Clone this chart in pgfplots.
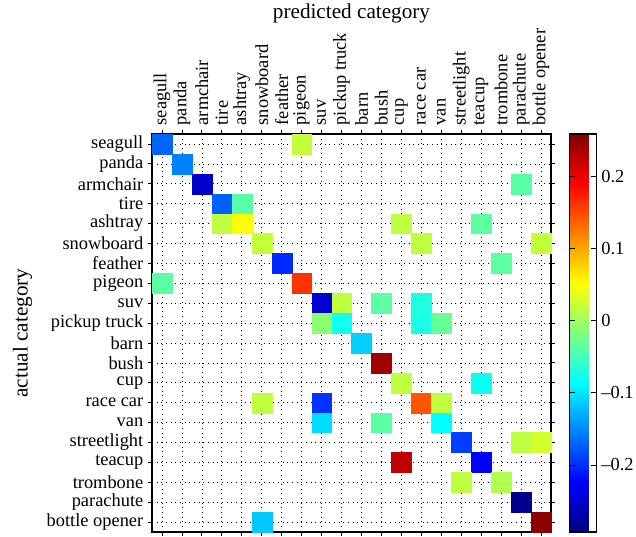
\documentclass[border=0pt]{standalone}
\usepackage{pgfplots}
\pgfplotsset{compat=1.18}
\usepackage{fontspec}
\setmainfont{Liberation Serif}
\pgfplotstableread{
x y c
0 0 -0.170
7 0 0.020
1 1 -0.154
2 2 -0.254
18 2 -0.038
3 3 -0.172
4 3 -0.038
3 4 0.018
4 4 0.052
12 4 0.018
16 4 -0.035
5 5 0.020
13 5 0.018
19 5 0.020
6 6 -0.202
17 6 -0.036
0 7 -0.037
7 7 0.163
8 8 -0.249
9 8 0.018
11 8 -0.036
13 8 -0.070
8 9 -0.010
9 9 -0.078
13 9 -0.072
14 9 -0.030
10 10 -0.112
11 11 0.241
12 12 0.018
16 12 -0.080
5 13 0.018
8 13 -0.197
13 13 0.144
14 13 0.018
8 14 -0.105
11 14 -0.036
14 14 -0.086
15 15 -0.191
18 15 0.018
19 15 0.028
12 16 0.225
16 16 -0.224
15 17 0.018
17 17 0.010
18 18 -0.286
5 19 -0.116
19 19 0.252
}\cells
\begin{document}
\begin{tikzpicture}
\useasboundingbox (0,0) rectangle (477pt,402pt);
\begin{axis}[
  at={(114pt,3pt)}, anchor=south west,
  scale only axis, width=299.25pt, height=298.5pt,
  xmin=-0.5, xmax=19.5, ymin=-0.5, ymax=19.5,
  y dir=reverse,
  xtick={0,...,19}, ytick={0,...,19},
  xticklabels={seagull,panda,armchair,tire,ashtray,snowboard,feather,pigeon,suv,pickup truck,barn,bush,cup,race car,van,streetlight,teacup,trombone,parachute,bottle opener},
  yticklabels={seagull,panda,armchair,tire,ashtray,snowboard,feather,pigeon,suv,pickup truck,barn,bush,cup,race car,van,streetlight,teacup,trombone,parachute,bottle opener},
  xticklabel pos=right,
  x tick label style={rotate=90, anchor=west, font=\fontsize{13.8}{15}\selectfont},
  y tick label style={font=\fontsize{13.8}{15}\selectfont},
  tick align=outside, major tick length=3pt,
  tick style={black, line width=0.6pt},
  grid=major, major grid style={black, line width=0.5pt, dash pattern=on 0.5pt off 3pt},
  axis line style={line width=1pt},
  xlabel={predicted category}, ylabel={actual category},
  label style={font=\fontsize{15.9}{17}\selectfont},
  xlabel style={yshift=-3pt},
  ylabel style={yshift=4pt},
  colormap/jet,
  point meta min=-0.293, point meta max=0.259,
  colorbar,
  colorbar style={
    at={(parent axis.north east)}, anchor=north west, xshift=5.2pt,
    width=20.5pt,
    ytick={-0.2,-0.1,0,0.1,0.2},
    yticklabels={--0.2,--0.1,0,0.1,0.2},
    ytick pos=both, yticklabel pos=right,
    tick align=inside, major tick length=4pt,
    tick style={black, line width=0.6pt},
    axis line style={line width=1pt},
    y tick label style={font=\fontsize{13.8}{15}\selectfont},
  },
]
\addplot[scatter, only marks, mark=square*, mark size=7.45pt,
  scatter src=explicit,
  scatter/use mapped color={draw=mapped color, fill=mapped color},
  mark options={line width=0.1pt}]
  table[x=x, y=y, meta=c] {\cells};
\end{axis}
\end{tikzpicture}
\end{document}
